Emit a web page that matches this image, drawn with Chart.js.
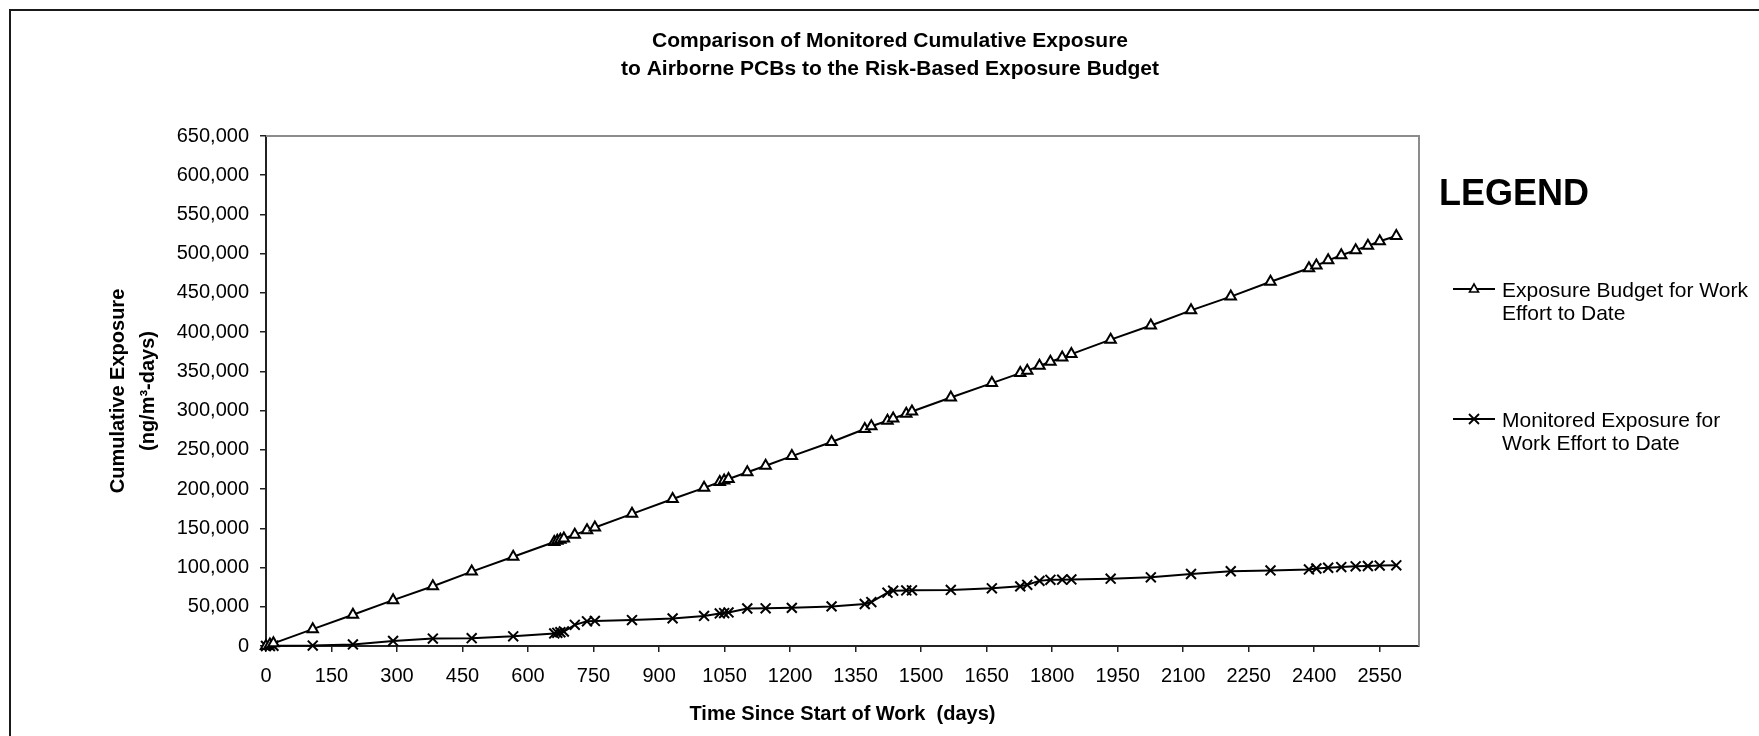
<!DOCTYPE html>
<html><head><meta charset="utf-8">
<script src="https://cdn.jsdelivr.net/npm/chart.js@4.4.0/dist/chart.umd.min.js"></script>
<style>
html,body{margin:0;padding:0;background:#fff;overflow:hidden;width:1759px;height:736px;}
#wrap{position:relative;width:1759px;height:736px;overflow:hidden;}
#frame{position:absolute;left:9px;top:9px;width:1800px;height:800px;border-left:2px solid #1a1a1a;border-top:2px solid #1a1a1a;box-sizing:border-box;}
canvas{position:absolute;left:0;top:0;}
.lg{position:absolute;font-family:"Liberation Sans",Arial,sans-serif;color:#000;}
</style></head><body>
<div id="wrap">
<div id="frame"></div>
<canvas id="c" width="1759" height="736"></canvas>
<div id="legend"></div>
</div>
<script>
const chartTitle = ['Comparison of Monitored Cumulative Exposure', 'to Airborne PCBs to the Risk-Based Exposure Budget'];
const xTitle = 'Time Since Start of Work  (days)';
const yTitle = ['Cumulative Exposure', '(ng/m\u00B3-days)'];
const legendHeading = 'LEGEND';
const seriesNames = ['Exposure Budget for Work Effort to Date', 'Monitored Exposure for Work Effort to Date'];

const days = [0, 9, 17, 107, 199, 291, 382, 471, 566, 660, 667, 674, 682, 707, 735, 753, 838, 931, 1003, 1039,
  1049, 1059, 1102, 1144, 1204, 1295, 1371, 1386, 1423, 1436, 1466, 1479, 1568, 1662, 1727, 1743, 1771, 1796, 1823, 1844,
  1934, 2026, 2118, 2209, 2300, 2388, 2405, 2432, 2462, 2495, 2523, 2550, 2588];
const budget = [0, 1800, 3400, 21500, 39800, 58400, 76200, 94800, 113700, 132500, 134000, 135400, 137000, 141900, 147400, 151000, 168400, 187300, 201600, 209000,
  211000, 212800, 221400, 229700, 242000, 260000, 276500, 280000, 287000, 290000, 296000, 298800, 316700, 335100, 347800, 350900, 357100, 362300, 367600, 372000,
  390400, 408500, 427800, 445300, 464200, 481400, 484800, 491500, 498000, 504500, 510000, 515800, 522500];
const monitored = [0, 0, 300, 500, 2000, 6500, 9500, 10000, 12300, 16000, 16800, 17500, 18500, 27000, 31500, 32000, 33000, 35200, 38300, 41500,
  42000, 42800, 47800, 48000, 48600, 50500, 53500, 56000, 68000, 70500, 70800, 71000, 71500, 73500, 76000, 78000, 83000, 84300, 84500, 84800,
  85800, 87500, 91800, 95300, 96300, 97600, 98800, 99700, 100600, 101500, 102000, 102500, 102800];

const xMin = 0, xMax = 2640, xStep = 150;
const yMin = 0, yMax = 650000, yStep = 50000;

Chart.defaults.font.family = '"Liberation Sans", Arial, sans-serif';
Chart.defaults.color = '#000';

const plotBorder = {
  id: 'plotBorder',
  beforeDatasetsDraw(chart) {
    const {ctx, chartArea: a} = chart;
    ctx.save();
    ctx.strokeStyle = '#8c8c8c';
    ctx.lineWidth = 2;
    ctx.beginPath();
    ctx.moveTo(a.left, a.top);
    ctx.lineTo(a.right, a.top);
    ctx.lineTo(a.right, a.bottom);
    ctx.stroke();
    ctx.restore();
  }
};

const mk = (ys) => days.map((d, i) => ({x: d, y: ys[i]}));

new Chart(document.getElementById('c'), {
  type: 'scatter',
  data: {
    datasets: [
      {label: seriesNames[0], data: mk(budget), showLine: true, borderColor: '#000', borderWidth: 2,
       pointStyle: 'triangle', pointRadius: 6, pointBorderWidth: 2, pointBackgroundColor: '#fff', pointBorderColor: '#000', clip: false},
      {label: seriesNames[1], data: mk(monitored), showLine: true, borderColor: '#000', borderWidth: 2,
       pointStyle: 'crossRot', pointRadius: 7, pointBorderWidth: 2, pointBackgroundColor: '#000', pointBorderColor: '#000', clip: false}
    ]
  },
  options: {
    responsive: false,
    animation: false,
    devicePixelRatio: 1,
    layout: {padding: {left: 21, top: 0, right: 0, bottom: 0}},
    plugins: {
      legend: {display: false},
      tooltip: {enabled: false},
      title: {display: true, text: chartTitle, color: '#000',
        font: {size: 21, weight: 'bold', lineHeight: 28/21}, padding: {top: 27, bottom: 53}}
    },
    scales: {
      x: {
        type: 'linear', position: 'bottom', min: xMin, max: xMax,
        afterFit(s) { s.height = 90; },
        ticks: {stepSize: xStep, includeBounds: false, autoSkip: false, maxRotation: 0, padding: 12,
          font: {size: 20}, color: '#000', callback: (v) => String(v)},
        grid: {drawOnChartArea: false, drawTicks: true, tickLength: 6, color: '#222', lineWidth: 1.5},
        border: {display: true, color: '#222', width: 2},
        title: {display: true, text: xTitle, color: '#000', font: {size: 20, weight: 'bold', lineHeight: 1.2}, padding: {top: 0, bottom: 10}}
      },
      y: {
        type: 'linear', position: 'left', min: yMin, max: yMax,
        afterFit(s) { s.width = 245; },
        ticks: {stepSize: yStep, includeBounds: false, padding: 11, font: {size: 20}, color: '#000',
          callback: (v) => v.toLocaleString('en-US')},
        grid: {drawOnChartArea: false, drawTicks: true, tickLength: 6, color: '#222', lineWidth: 1.5},
        border: {display: true, color: '#222', width: 2},
        title: {display: true, text: yTitle, color: '#000', font: {size: 20, weight: 'bold', lineHeight: 1.5}, padding: {top: 82, bottom: 0}}
      },
      y2: {
        type: 'linear', position: 'right', display: true,
        afterFit(s) { s.width = 340; },
        ticks: {display: false}, grid: {display: false}, border: {display: false}
      }
    }
  },
  plugins: [plotBorder]
});

// HTML legend (text + symbols)
const lg = document.getElementById('legend');
let html = '<div class="lg" style="left:1439px;top:175px;font-size:36px;font-weight:bold;line-height:36px;">' + legendHeading + '</div>';
const entryTops = [278, 408];
const symY = [289, 419];
html += '<svg style="position:absolute;left:0;top:0" width="1759" height="736">';
html += '<line x1="1453" y1="' + symY[0] + '" x2="1495" y2="' + symY[0] + '" stroke="#000" stroke-width="1.8"/>';
html += '<polygon points="1474,' + (symY[0]-5) + ' 1478.5,' + (symY[0]+3) + ' 1469.5,' + (symY[0]+3) + '" fill="#fff" stroke="#000" stroke-width="1.6"/>';
html += '<line x1="1453" y1="' + symY[1] + '" x2="1495" y2="' + symY[1] + '" stroke="#000" stroke-width="1.8"/>';
html += '<path d="M1469,' + (symY[1]-5) + ' L1479,' + (symY[1]+5) + ' M1479,' + (symY[1]-5) + ' L1469,' + (symY[1]+5) + '" stroke="#000" stroke-width="1.8"/>';
html += '</svg>';
seriesNames.forEach((n, i) => {
  html += '<div class="lg" style="left:1502px;top:' + entryTops[i] + 'px;width:256px;font-size:21px;line-height:23px;">' + n + '</div>';
});
lg.innerHTML = html;
</script>
</body></html>
